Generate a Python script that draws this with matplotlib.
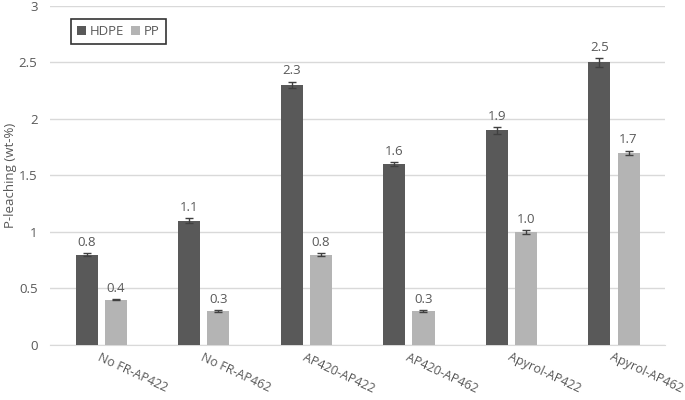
import matplotlib
matplotlib.use("Agg")
import matplotlib.pyplot as plt
import numpy as np

# data
categories = ["No FR-AP422", "No FR-AP462", "AP420-AP422", "AP420-AP462", "Apyrol-AP422", "Apyrol-AP462"]
hdpe = [0.8, 1.1, 2.3, 1.6, 1.9, 2.5]
pp = [0.4, 0.3, 0.8, 0.3, 1.0, 1.7]
hdpe_err = [0.015, 0.02, 0.03, 0.02, 0.03, 0.04]
pp_err = [0.006, 0.006, 0.015, 0.006, 0.015, 0.02]
hdpe_labels = ["0.8", "1.1", "2.3", "1.6", "1.9", "2.5"]
pp_labels = ["0.4", "0.3", "0.8", "0.3", "1.0", "1.7"]

plt.rcParams['font.family'] = ['Open Sans', 'DejaVu Sans']
TXT = '#595959'
FS = 9.5

fig = plt.figure(figsize=(6.85, 4.0), dpi=100)
ax = fig.add_axes([0.073, 0.1375, 0.898, 0.848])

x = np.arange(len(categories))
w = 0.215
off = 0.143
ekw = dict(ecolor='#404040', elinewidth=1, capsize=3, capthick=1)
ax.bar(x - off, hdpe, w, color='#595959', label='HDPE', zorder=3, yerr=hdpe_err, error_kw=ekw)
ax.bar(x + off, pp, w, color='#b4b4b4', label='PP', zorder=3, yerr=pp_err, error_kw=ekw)

for xi, v, e, s in zip(x - off, hdpe, hdpe_err, hdpe_labels):
    ax.annotate(s, (xi, v + e), xytext=(0, 3), textcoords='offset points',
                ha='center', va='bottom', fontsize=FS, color=TXT)
for xi, v, e, s in zip(x + off, pp, pp_err, pp_labels):
    ax.annotate(s, (xi, v + e), xytext=(0, 3), textcoords='offset points',
                ha='center', va='bottom', fontsize=FS, color=TXT)

ax.set_xlim(-0.5, len(categories) - 0.5)
ax.set_ylim(0, 3)
ax.set_yticks([0, 0.5, 1, 1.5, 2, 2.5, 3])
ax.set_yticklabels(["0", "0.5", "1", "1.5", "2", "2.5", "3"])
ax.yaxis.grid(True, color='#d9d9d9', linewidth=1, zorder=0)
ax.set_axisbelow(True)
for sp in ['top', 'right', 'left']:
    ax.spines[sp].set_visible(False)
ax.spines['bottom'].set_color('#d9d9d9')
ax.tick_params(axis='both', length=0, colors=TXT, labelsize=FS)
ax.tick_params(axis='y', pad=9)

ax.set_xticks(x)
ax.set_xticklabels(categories, rotation=-25, ha='left', va='top', rotation_mode='anchor')
ax.tick_params(axis='x', pad=4, labelsize=9)

ax.set_ylabel("P-leaching (wt-%)", color=TXT, fontsize=FS)
ax.yaxis.set_label_coords(-0.054, 0.5)

leg = ax.legend(loc='upper left', bbox_to_anchor=(0.034, 0.96), ncol=2, fontsize=FS,
                frameon=True, fancybox=False, handlelength=0.7, handleheight=0.7,
                handletextpad=0.3, columnspacing=0.5, borderpad=0.45, borderaxespad=0)
leg.get_frame().set_edgecolor('black')
leg.get_frame().set_linewidth(1.2)
for t in leg.get_texts():
    t.set_color(TXT)

fig.savefig("out.png", dpi=100)
